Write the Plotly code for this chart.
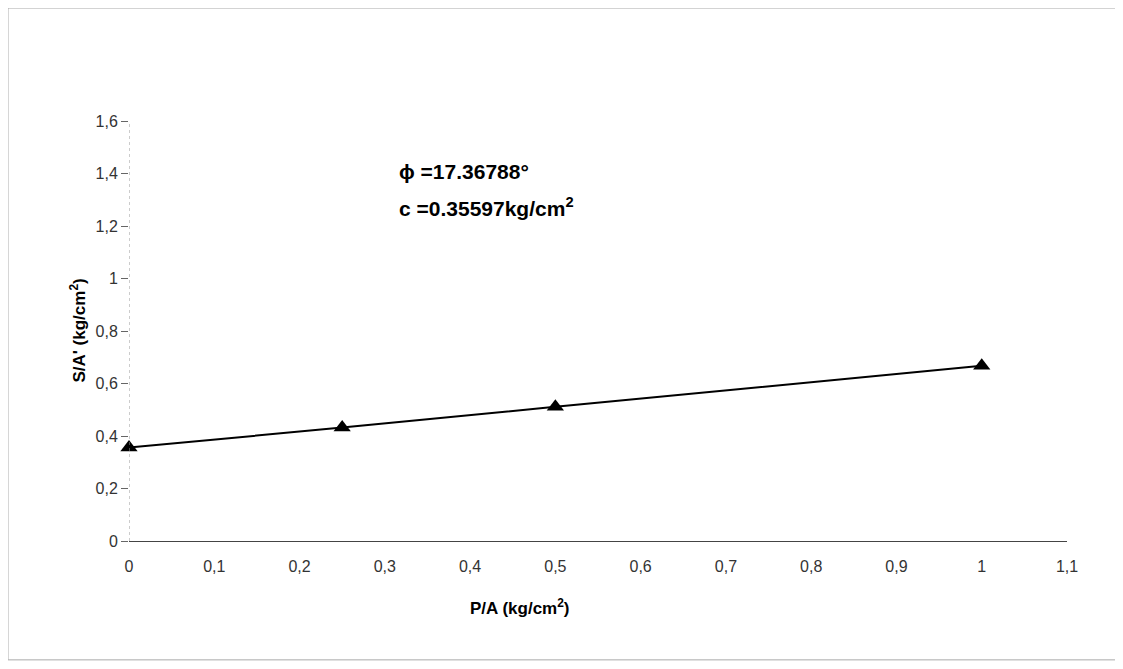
import plotly.graph_objects as go

# Data
pa = [0, 0.25, 0.5, 1.0]              # P/A (kg/cm2)
sa = [0.356, 0.432, 0.511, 0.668]     # S/A' (kg/cm2)

x_ticks = [0, 0.1, 0.2, 0.3, 0.4, 0.5, 0.6, 0.7, 0.8, 0.9, 1.0, 1.1]
x_tick_labels = ["0", "0,1", "0,2", "0,3", "0,4", "0,5", "0,6", "0,7", "0,8", "0,9", "1", "1,1"]
y_ticks = [0, 0.2, 0.4, 0.6, 0.8, 1.0, 1.2, 1.4, 1.6]
y_tick_labels = ["0", "0,2", "0,4", "0,6", "0,8", "1", "1,2", "1,4", "1,6"]

phi_text = "<b>\u03d5 =17.36788\u00b0</b>"
c_text = "<b>c =0.35597kg/cm<sup>2</sup></b>"
x_title = "<b>P/A (kg/cm<sup>2</sup>)</b>"
y_title = "<b>S/A' (kg/cm<sup>2</sup>)</b>"

FONT = "Liberation Sans, Arial, sans-serif"

fig = go.Figure()
fig.add_trace(go.Scatter(
    x=pa, y=sa, mode="lines+markers",
    line=dict(color="black", width=2),
    marker=dict(symbol="triangle-up", size=15, color="black"),
    showlegend=False, cliponaxis=False,
))

fig.update_layout(
    width=1107, height=653,
    margin=dict(l=121, r=48, t=113, b=120),
    paper_bgcolor="white", plot_bgcolor="white",
    font=dict(family=FONT, size=16, color="#222"),
    xaxis=dict(
        range=[0, 1.1], tickvals=x_ticks, ticktext=x_tick_labels,
        showgrid=False, zeroline=False, showline=True, linecolor="#444", linewidth=1,
        ticks="", ticklabelstandoff=11,
        tickfont=dict(size=16, color="#333"),
    ),
    yaxis=dict(
        range=[0, 1.6], tickvals=y_ticks, ticktext=y_tick_labels,
        showgrid=False, zeroline=False, showline=False,
        ticks="outside", ticklen=7, tickcolor="#666",
        tickfont=dict(size=16, color="#333"),
    ),
    shapes=[
        dict(type="rect", xref="paper", yref="paper",
             x0=-0.129, x1=1.054, y0=-0.283, y1=1.269,
             line=dict(color="#aaa", width=1), fillcolor="rgba(0,0,0,0)"),
        dict(type="line", xref="x", yref="y", x0=0, x1=0, y0=0, y1=1.6,
             line=dict(color="#999", width=1, dash="dot")),
    ],
    annotations=[
        dict(text=phi_text, xref="paper", yref="paper", x=0.286, y=0.879,
             xanchor="left", yanchor="middle", showarrow=False,
             font=dict(family=FONT, size=21, color="black")),
        dict(text=c_text, xref="paper", yref="paper", x=0.286, y=0.795,
             xanchor="left", yanchor="middle", showarrow=False,
             font=dict(family=FONT, size=21, color="black")),
        dict(text=x_title, xref="paper", yref="paper",
             x=0.417, y=-0.157, xanchor="center", yanchor="middle", showarrow=False,
             font=dict(family=FONT, size=17, color="black")),
        dict(text=y_title, xref="paper", yref="paper",
             x=-0.054, y=0.502, xanchor="center", yanchor="middle", showarrow=False,
             textangle=-90, font=dict(family=FONT, size=17, color="black")),
    ],
)

fig.write_html("out.html")
